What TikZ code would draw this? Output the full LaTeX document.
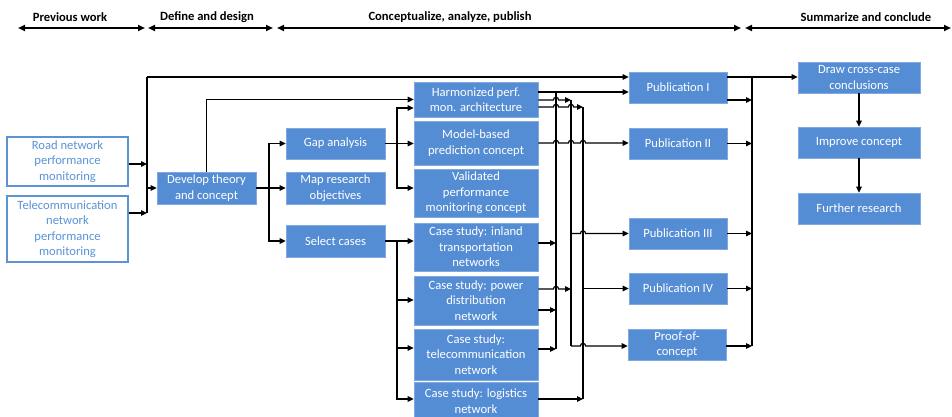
\documentclass[tikz,border=0pt]{standalone}
\usepackage{fontspec}
\setmainfont{Carlito}
\usetikzlibrary{arrows.meta,calc}

\definecolor{boxblue}{HTML}{558DD5}
\definecolor{boxedge}{HTML}{7FA9E0}
\definecolor{inkblue}{HTML}{5B93D6}

\begin{document}
\begin{tikzpicture}[x=1pt,y=-1pt,
  base/.style={align=center, inner sep=0pt, font=\fontsize{12.6}{15.5}\selectfont},
  box/.style={base, fill=boxblue, draw=boxedge, line width=0.6pt, text=white},
  inbox/.style={base, fill=white, draw=inkblue, line width=1.2pt, text=inkblue},
  head/.style={font=\bfseries\fontsize{12.6}{15}\selectfont, inner sep=0pt},
  phase/.style={line width=2pt, {Triangle[length=7pt,width=6pt]}-{Triangle[length=7pt,width=6pt]}},
  wire/.style={line width=1.2pt},
  conn/.style={wire, -{Triangle[length=6pt,width=5.5pt]}},
  hop/.style args={#1/#2}{insert path={-- (#1-2.6,#2) .. controls (#1-2.6,#2-3.5) and (#1+2.6,#2-3.5) .. (#1+2.6,#2)}}
]
\useasboundingbox (0,0) rectangle (952,417);

% ---- phase bar ----
\coordinate (p0) at (18,28);  \coordinate (p1) at (145,28);
\coordinate (d0) at (148,28); \coordinate (d1) at (273,28);
\coordinate (c0) at (277,28); \coordinate (c1) at (741,28);
\coordinate (s0) at (745,28); \coordinate (s1) at (951,28);
\draw[phase] (p0) -- (p1);
\draw[phase] (d0) -- (d1);
\draw[phase] (c0) -- (c1);
\draw[phase] (s0) -- (s1);
\node[head] (hp) at (70,17) {Previous work};
\node[head] (hd) at (207,17) {Define and design};
\node[head] (hc) at (450,17) {Conceptualize, analyze, publish};
\node[head] (hs) at (866,17) {Summarize and conclude};

% ---- input topics ----
\node[inbox, minimum width=121pt, minimum height=49pt] (road) at (67.5,161.5) {Road network\\performance\\monitoring};
\node[inbox, minimum width=121pt, minimum height=66pt] (telecomnet) at (67.5,229) {Telecommunication\\network\\performance\\monitoring};

% ---- define and design ----
\node[box, minimum width=99pt, minimum height=32pt] (develop) at (206.5,188) {Develop theory\\and concept};
\node[box, minimum width=99pt, minimum height=31pt] (gap) at (335.5,143.5) {Gap analysis};
\node[box, minimum width=99pt, minimum height=32pt] (mapobj) at (335.5,188) {Map research\\objectives};
\node[box, minimum width=99pt, minimum height=32pt] (select) at (335.5,241) {Select cases};

% ---- concepts and case studies ----
\node[box, minimum width=124pt, minimum height=35pt] (harm) at (476,99.5) {Harmonized perf.\\mon. architecture};
\node[box, minimum width=124pt, minimum height=44pt] (model) at (476,143) {Model-based\\prediction concept};
\node[box, minimum width=124pt, minimum height=48pt] (valid) at (476,193) {Validated\\performance\\monitoring concept};
\node[box, minimum width=124pt, minimum height=48pt] (inland) at (476,247) {Case study: inland\\transportation\\networks};
\node[box, minimum width=124pt, minimum height=49pt] (power) at (476,300.5) {Case study: power\\distribution\\network};
\node[box, minimum width=124pt, minimum height=51pt] (telecase) at (476,354.5) {Case study:\\telecommunication\\network};
\node[box, minimum width=124pt, minimum height=38pt] (logist) at (476,401) {Case study: logistics\\network};

% ---- publications ----
\node[box, minimum width=98pt, minimum height=31pt] (pub1) at (678,87.5) {Publication I};
\node[box, minimum width=98pt, minimum height=31pt] (pub2) at (678,143.5) {Publication II};
\node[box, minimum width=98pt, minimum height=31pt] (pub3) at (678,233.5) {Publication III};
\node[box, minimum width=98pt, minimum height=31pt] (pub4) at (678,288.5) {Publication IV};
\node[box, minimum width=98pt, minimum height=31pt] (proof) at (677,344.5) {Proof-of-\\concept};

% ---- conclusions ----
\node[box, minimum width=122pt, minimum height=31pt] (draw) at (859,77.5) {Draw cross-case\\conclusions};
\node[box, minimum width=122pt, minimum height=31pt] (improve) at (859,142.5) {Improve concept};
\node[box, minimum width=122pt, minimum height=31pt] (further) at (859,208.5) {Further research};

% ---- inputs to theory ----
\coordinate (busL) at (147,77);
\coordinate (rd) at ([yshift=-2.5pt]road.east);
\coordinate (tn) at ([yshift=16pt]telecomnet.east);
\draw[conn] (rd) -- (rd -| busL);
\draw[conn] (tn) -- (tn -| busL);
\draw[wire] (busL) -- (tn -| busL);
\draw[conn] (busL |- develop.west) -- (develop.west);
\draw[conn] (busL) -- (busL -| pub1.west);

% ---- theory branches ----
\draw[conn] (develop.north) |- (harm.west);
\draw[conn] (develop.east) -- (mapobj.west);
\coordinate (ds) at (269,188);
\draw[conn] (ds) |- (gap.west);
\draw[conn] (ds) |- (select.west);

\draw[conn] (gap.east) -- (gap.east -| model.west);
\coordinate (gs) at (397,143.5);
\coordinate (hin) at ([yshift=-8.5pt]harm.west);
\coordinate (vin) at ([yshift=5pt]valid.west);
\draw[conn] (gs) |- (hin);
\draw[conn] (gs) |- (vin);

\draw[conn] (select.east) -- (select.east -| inland.west);
\coordinate (ss) at (397,241);
\coordinate (pin) at ([yshift=0.5pt]power.west);
\coordinate (tin) at ([yshift=6.5pt]telecase.west);
\coordinate (lin) at ([yshift=2pt]logist.west);
\draw[conn] (ss) |- (pin);
\draw[conn] (ss) |- (tin);
\draw[conn] (ss) |- (lin);

% ---- buses towards publications ----
\coordinate (bA) at (556,92);
\coordinate (bB) at (571,100);
\coordinate (bC) at (583,107);
\coordinate (h1) at ([yshift=7.5pt]harm.east);
\coordinate (h2) at ([yshift=-0.5pt]harm.east);
\coordinate (h3) at ([yshift=-7.5pt]harm.east);
\coordinate (i1) at ([yshift=4pt]inland.east);
\coordinate (po1) at ([yshift=11.5pt]power.east);
\coordinate (po2) at ([yshift=-9.5pt]power.east);
\coordinate (tc1) at ([yshift=5.5pt]telecase.east);
\coordinate (lo) at ([yshift=2pt]logist.east);
\coordinate (prf) at ([yshift=-1.5pt]proof.west);

\draw[wire] (bA) -- (bA |- tc1);
\draw[wire] (bB) -- (bB |- prf);
\draw[wire] (bC) -- (bC |- lo);

\draw[conn] (h1) -- (h1 -| pub1.west);
\draw[conn] (h2) [hop=556/100] -- (h2 -| bB);
\draw[conn] (h3) [hop=556/107] [hop=571/107] -- (h3 -| bC);
\draw[conn] (model.east) [hop=556/143] [hop=571/143] [hop=583/143] -- (model.east -| pub2.west);
\draw[conn] (i1) -- (i1 -| bA);
\draw[conn] (po1) [hop=556/289] -- (po1 -| bB);
\draw[conn] (po2) -- (po2 -| bA);
\draw[conn] (tc1) -- (tc1 -| bA);
\draw[conn] (lo) -- (lo -| bC);

\draw[conn] (bB |- pub3.west) [hop=583/233.5] -- (pub3.west);
\draw[conn] (bC |- pub4.west) -- (pub4.west);
\draw[conn] (bB |- prf) [hop=583/346] -- (prf);

% ---- publications to conclusions ----
\coordinate (bR) at (752,77);
\coordinate (t1) at ([yshift=10.5pt]pub1.east);
\coordinate (p1o) at ([yshift=-12.5pt]pub1.east);
\coordinate (pr2) at ([yshift=-1.5pt]proof.east);
\draw[conn] (t1) -- (t1 -| draw.west);
\draw[wire] (bR) -- (bR |- pr2);
\draw[conn] (p1o) -- (p1o -| bR);
\draw[conn] (pub2.east) -- (pub2.east -| bR);
\draw[conn] (pub3.east) -- (pub3.east -| bR);
\draw[conn] (pub4.east) -- (pub4.east -| bR);
\draw[conn] (pr2) -- (pr2 -| bR);
\draw[conn] (draw.south) -- (improve.north);
\draw[conn] (improve.south) -- (further.north);
\end{tikzpicture}
\end{document}
